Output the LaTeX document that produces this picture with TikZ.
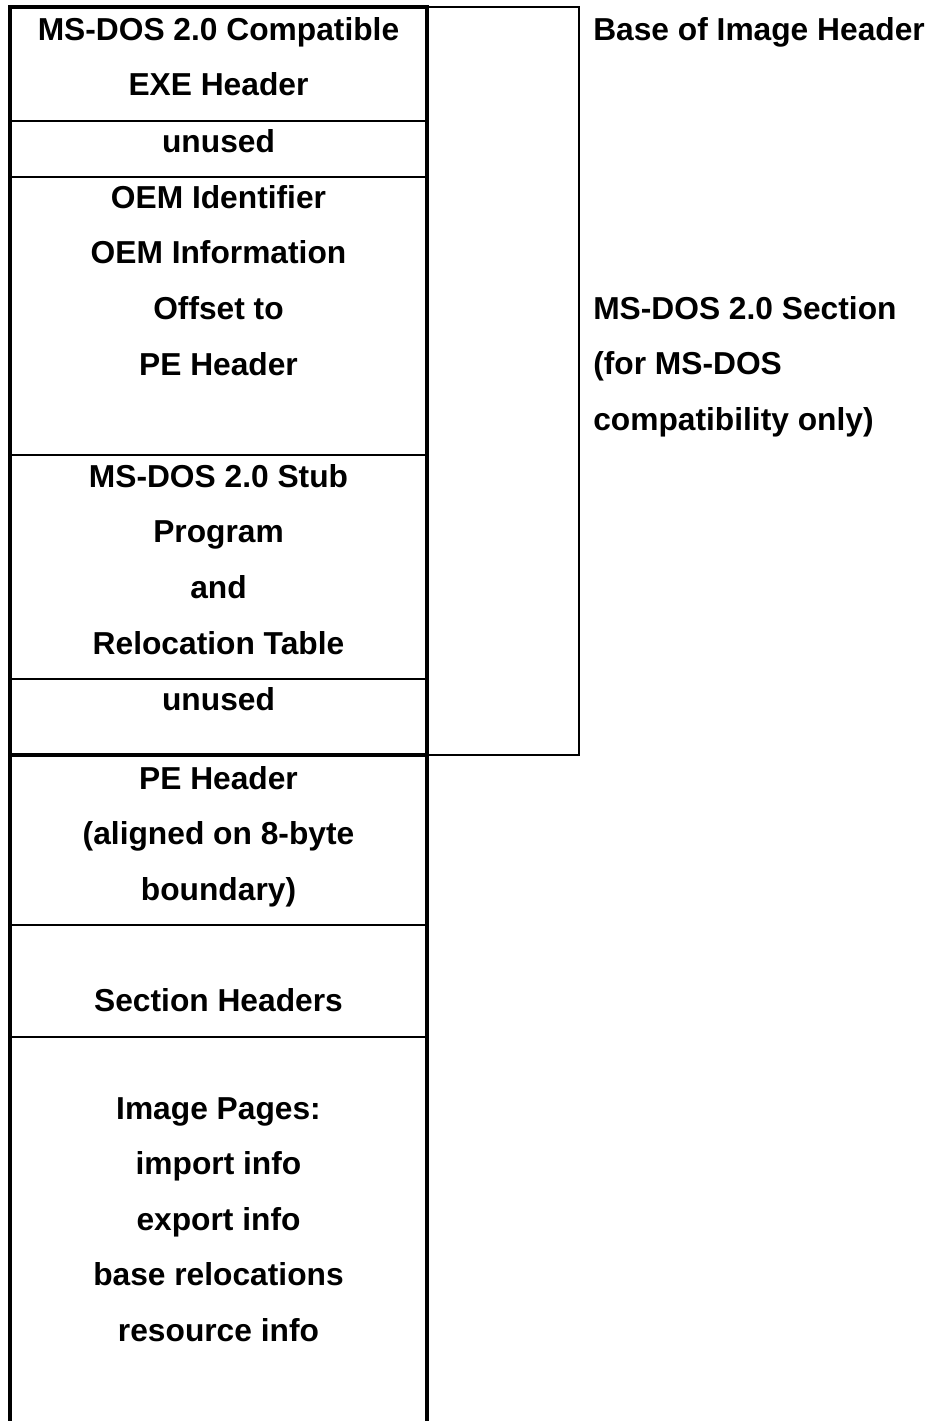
\documentclass[tikz,border=0pt]{standalone}
\usepackage{fontspec}
\setmainfont{Liberation Sans}
\usetikzlibrary{positioning}

\begin{document}
\begin{tikzpicture}[
  x=0.75pt, y=-0.75pt,
  field/.style={font=\bfseries\fontsize{23.8}{41.7}\selectfont, align=center, anchor=north, inner sep=0pt},
  note/.style={font=\bfseries\fontsize{23.8}{41.7}\selectfont, align=left, anchor=north west, inner sep=0pt},
  frame/.style={line width=2.6pt},
  rule/.style={line width=1.5pt},
  dosbox/.style={line width=1.3pt}
]
\useasboundingbox[fill=white] (0,0) rectangle (931,1421);
% MS-DOS section box on the right
\draw[dosbox] (427,7) rectangle (579,755);
% image column
\draw[frame] (10,1430) -- (10,7) -- (427,7) -- (427,1430);
\draw[rule] (10,121) -- (427,121);
\draw[rule] (10,177) -- (427,177);
\draw[rule] (10,455) -- (427,455);
\draw[rule] (10,679) -- (427,679);
\draw[frame] (10,755) -- (427,755);
\draw[rule] (10,925) -- (427,925);
\draw[rule] (10,1037) -- (427,1037);
% fields
\node[field] (exe) at (218.5,17) {MS-DOS 2.0 Compatible\\EXE Header};
\node[field] (pad1) at (218.5,129) {unused};
\node[field] (oem) at (218.5,185) {OEM Identifier\\OEM Information\\Offset to\\PE Header};
\node[field] (stub) at (218.5,464) {MS-DOS 2.0 Stub\\Program\\and\\Relocation Table};
\node[field] (pad2) at (218.5,687) {unused};
\node[field] (pe) at (218.5,766) {PE Header\\(aligned on 8-byte\\boundary)};
\node[field] (secthdr) at (218.5,988) {Section Headers};
\node[field] (pages) at (218.5,1097) {Image Pages:\\import info\\export info\\base relocations\\resource info};
% notes
\node[note] (base) at (593,17) {Base of Image Header};
\node[note] (dossect) at (593,296) {MS-DOS 2.0 Section\\(for MS-DOS\\compatibility only)};
\end{tikzpicture}
\end{document}
